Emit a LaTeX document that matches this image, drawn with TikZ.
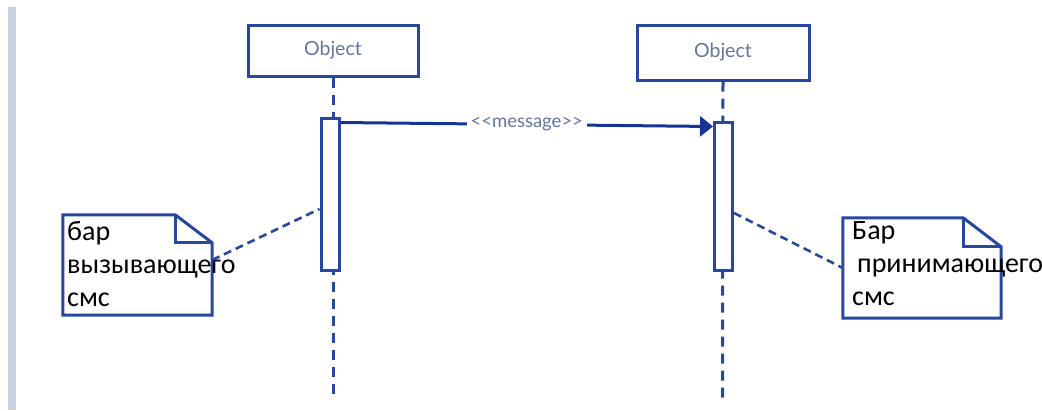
\documentclass[tikz,border=0pt]{standalone}
\usepackage{fontspec}
\setmainfont{Carlito}
\newfontfamily\lato{Lato}
\usetikzlibrary{arrows.meta,calc}
\definecolor{umlblue}{RGB}{40,72,160}
\definecolor{labelgray}{RGB}{100,118,158}
\definecolor{arrowblue}{RGB}{22,52,150}
\definecolor{railgray}{RGB}{200,208,225}
\tikzset{
  objbox/.style={draw=umlblue, line width=3pt, fill=white, minimum width=170pt,
    minimum height=51pt, inner sep=0pt, font=\lato\fontsize{19.5}{22}\selectfont, text=labelgray},
  actbar/.style={draw=umlblue, line width=3pt, fill=white, minimum width=18pt,
    minimum height=152pt, inner sep=0pt},
  lifeline/.style={umlblue, line width=3pt, dash pattern=on 10pt off 7pt},
  msgline/.style={umlblue, line width=3pt, -{Triangle[length=13pt,width=20pt]}, arrowblue},
  msglabel/.style={fill=white, text=labelgray, font=\lato\fontsize{18.5}{20}\selectfont, inner sep=4pt},
  notebox/.style={inner sep=0pt},
  noteline/.style={draw=umlblue, line width=3pt, line join=miter},
  notelink/.style={umlblue, line width=2.6pt, dash pattern=on 8pt off 5pt},
  notetext/.style={font=\fontsize{28}{33}\selectfont, align=left, anchor=north west,
    inner sep=0pt, text=black},
}
\begin{document}
\begin{tikzpicture}[x=1pt,y=-1pt]
  \useasboundingbox (0,0) rectangle (1042,410);
  % left margin rail
  \fill[railgray] (8,7) rectangle (16,410);

  % objects
  \node[objbox] (o1) at (333,50.5) {Object};
  \node[objbox, minimum width=172pt, minimum height=55pt] (o2) at (723,52.5) {Object};

  % lifelines
  \coordinate (e1) at (333,395);
  \coordinate (e2) at (722.5,403);
  \draw[lifeline] (o1.south) -- (e1);
  \draw[lifeline] (o2.south) -- (e2);

  % activation bars
  \node[actbar] (a1) at (330,194) {};
  \node[actbar, minimum height=148pt] (a2) at (723.5,196) {};

  % synchronous message
  \draw[msgline] ($(a1.north east)+(0,6)$) -- node[msglabel, pos=0.5] {<{}<message>{}>} ($(a2.north west)+(0,6)$);

  % notes
  \node[notebox, minimum width=149pt, minimum height=100pt] (n1) at (137.5,265) {};
  \node[notebox, minimum width=158pt, minimum height=100pt] (n2) at (922,268) {};
  \foreach \n/\fx/\fy in {n1/37/28, n2/38/29}{
    \draw[noteline] (\n.north west) -- ($(\n.north east)+(-\fx,0)$) -- ($(\n.north east)+(0,\fy)$)
      -- (\n.south east) -- (\n.south west) -- cycle;
    \draw[noteline] ($(\n.north east)+(-\fx,0)$) |- ($(\n.north east)+(0,\fy)$);
  }
  \node[notetext] (t1) at (67,221) {бар\\вызывающего\\смс};
  \node[notetext] (t2) at (852,221) {Бар\\\hspace{5pt}принимающего\\смс};

  % note attachments
  \draw[notelink] ($(n1.east)+(0,-5)$) -- ($(a1.west)+(0,15)$);
  \draw[notelink] ($(a2.east)+(0,17)$) -- (n2.west);
\end{tikzpicture}
\end{document}
